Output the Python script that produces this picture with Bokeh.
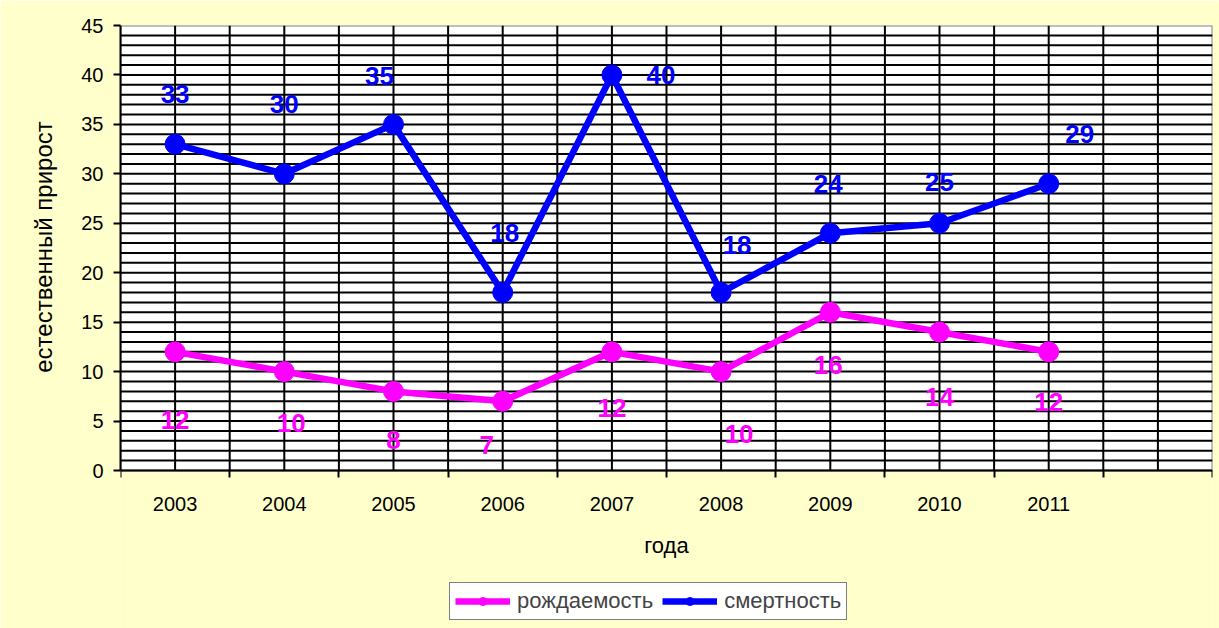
from bokeh.plotting import figure
from bokeh.models import (Range1d, FixedTicker, ColumnDataSource, Legend, LegendItem)
from bokeh.core.properties import value
from bokeh.embed import file_html
from bokeh.resources import INLINE

# ---- data ----
years = [2003, 2004, 2005, 2006, 2007, 2008, 2009, 2010, 2011]
births = [12, 10, 8, 7, 12, 10, 16, 14, 12]        # рождаемость
deaths = [33, 30, 35, 18, 40, 18, 24, 25, 29]      # смертность
n_slots = 10                                        # categories on axis (last empty)
y_ticks = [0, 5, 10, 15, 20, 25, 30, 35, 40, 45]
y_max = 45

# ---- label placement (screen px offsets, layout only) ----
births_dx = [0, 7, 0, -16, 0, 18, -2, 0, 0]
births_dy = [68, 51, 49, 44, 56, 62, 53, 65, 50]
deaths_dx = [0, 0, -14, 2, 49, 16, -2, 0, 31]
deaths_dy = [-50, -70, -48, -60, 0, -48, -49, -41, -50]

FONT = "Liberation Sans"
MAGENTA = "#FF00FF"
BLUE = "#0000FF"
BG = "#FFFFCC"

# layout: the frame extends to the bottom of the page so the legend can sit below the axis
PLOT_PX = 445
FRAME_PX = 603
y_lo = -y_max * (FRAME_PX - PLOT_PX) / PLOT_PX
TITLE_SHIFT = "\u00a0" * 24   # shifts the centred y title up to the plot area's middle

x0 = years[0] - 0.5
x1 = x0 + n_slots
boundaries = [x0 + i for i in range(n_slots + 1)]
halfsteps = [x0 + 0.5 * i for i in range(2 * n_slots + 1)]
hlines = list(range(1, y_max))

p = figure(frame_width=1092, frame_height=FRAME_PX, width=1219, height=628,
           x_range=Range1d(x0, x1), y_range=Range1d(y_lo, y_max),
           output_backend="svg", toolbar_location=None,
           min_border_left=120, min_border_top=25, min_border_right=7, min_border_bottom=0)
p.border_fill_color = BG
p.background_fill_color = BG
p.outline_line_color = None
p.xgrid.visible = False
p.ygrid.visible = False

# plot area (white) with gray border
p.quad(left=[x0], right=[x1], bottom=[0], top=[y_max], fill_color="white",
       line_color="#808080", line_width=2)
# grid lines
p.segment(x0=halfsteps[1:-1], y0=[0] * (len(halfsteps) - 2),
          x1=halfsteps[1:-1], y1=[y_max] * (len(halfsteps) - 2),
          line_color="black", line_width=2)
p.segment(x0=[x0] * len(hlines), y0=hlines, x1=[x1] * len(hlines), y1=hlines,
          line_color="black", line_width=2)

# x axis (fixed at y=0)
xa = p.xaxis[0]
xa.fixed_location = 0
xa.ticker = FixedTicker(ticks=years, minor_ticks=boundaries)
xa.major_label_overrides = {y: str(y) for y in years}
xa.major_tick_out = 0
xa.major_tick_in = 0
xa.minor_tick_out = 7
xa.minor_tick_in = 0
xa.minor_tick_line_color = "black"
xa.minor_tick_line_width = 2
xa.axis_line_color = "black"
xa.axis_line_width = 2
xa.major_label_standoff = 19
xa.major_label_text_font = FONT
xa.major_label_text_font_size = "20px"
xa.major_label_text_color = "black"
xa.axis_label = "года"
xa.axis_label_text_font = FONT
xa.axis_label_text_font_size = "22px"
xa.axis_label_text_font_style = "normal"
xa.axis_label_text_color = "black"
xa.axis_label_standoff = 19

# y axis
ya = p.yaxis[0]
ya.bounds = (0, y_max)
ya.ticker = FixedTicker(ticks=y_ticks, minor_ticks=[])
ya.major_tick_out = 7
ya.major_tick_in = 0
ya.major_tick_line_width = 2
ya.major_tick_line_color = "black"
ya.minor_tick_out = 0
ya.minor_tick_in = 0
ya.axis_line_color = "black"
ya.axis_line_width = 2
ya.major_label_standoff = 10
ya.major_label_text_font = FONT
ya.major_label_text_font_size = "20px"
ya.major_label_text_color = "black"
ya.axis_label = TITLE_SHIFT + "естественный прирост"
ya.axis_label_text_font = FONT
ya.axis_label_text_font_size = "24px"
ya.axis_label_text_font_style = "normal"
ya.axis_label_text_color = "black"
ya.axis_label_standoff = 21

src_b = ColumnDataSource(dict(x=years, y=births, t=[str(v) for v in births],
                              dx=births_dx, dy=births_dy))
src_d = ColumnDataSource(dict(x=years, y=deaths, t=[str(v) for v in deaths],
                              dx=deaths_dx, dy=deaths_dy))

lb = p.line("x", "y", source=src_b, line_color=MAGENTA, line_width=6.5)
sb = p.scatter("x", "y", source=src_b, size=20, fill_color=MAGENTA, line_color=MAGENTA)
ld = p.line("x", "y", source=src_d, line_color=BLUE, line_width=6.5)
sd = p.scatter("x", "y", source=src_d, size=20, fill_color=BLUE, line_color=BLUE)

for src, col in ((src_b, MAGENTA), (src_d, BLUE)):
    p.text("x", "y", text="t", source=src, x_offset="dx", y_offset="dy",
           text_font=value(FONT), text_font_size="26px", text_font_style="bold",
           text_color=col, text_align="center", text_baseline="middle")

legend = Legend(items=[LegendItem(label="рождаемость", renderers=[lb, sb]),
                       LegendItem(label="смертность", renderers=[ld, sd])],
                orientation="horizontal", location=(329, 8))
legend.label_text_font = FONT
legend.label_text_font_size = "22px"
legend.glyph_width = 55
legend.glyph_height = 20
legend.label_standoff = 7
legend.spacing = 9
legend.padding = 5
legend.margin = 0
legend.border_line_color = "black"
legend.border_line_width = 1
legend.background_fill_color = "white"
legend.background_fill_alpha = 1.0
p.add_layout(legend, "center")

open("out.html", "w").write(file_html(p, INLINE))
